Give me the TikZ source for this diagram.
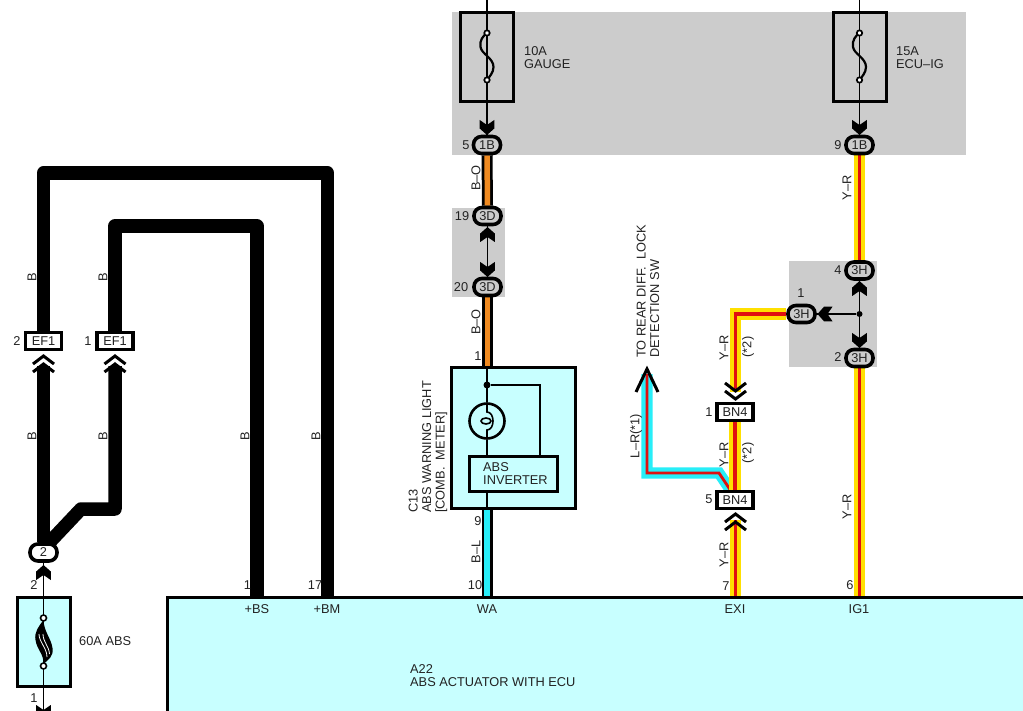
\documentclass[tikz,border=0pt]{standalone}
\usepackage{fontspec}
\setmainfont{Liberation Sans}
\usetikzlibrary{backgrounds}
\definecolor{greybg}{HTML}{CCCCCC}
\definecolor{pale}{HTML}{C8FFFF}
\definecolor{wireorange}{HTML}{F08A20}
\definecolor{wireyellow}{HTML}{FFE000}
\definecolor{wirered}{HTML}{E01010}
\definecolor{wirecyan}{HTML}{28EEF8}
\definecolor{ink}{HTML}{222222}
\tikzset{
  lbl/.style={text=ink,inner sep=0pt,font=\fontsize{12.8}{13.5}\selectfont,align=left},
  vlbl/.style={lbl,rotate=90},
  oval/.style={draw=black,line width=3.6pt,rounded corners=8pt,minimum width=27pt,minimum height=17pt,inner sep=0pt,text=ink,font=\fontsize{12.8}{13.5}\selectfont},
  conbox/.style={draw=black,line width=3.2pt,fill=white,minimum width=36pt,minimum height=17pt,inner sep=0pt,text=ink,font=\fontsize{12.8}{13.5}\selectfont},
  fusebox/.style={draw=black,line width=3pt,minimum width=53pt,minimum height=89pt,inner sep=0pt},
  thin wire/.style={draw=black,line width=1.8pt},
  fat wire/.style={draw=black,line width=13.5pt,line join=round},
  bo wire/.style={draw=black,line width=2.75pt,double=wireorange,double distance=5.5pt},
  bl wire/.style={draw=black,line width=2.75pt,double=wirecyan,double distance=5.5pt},
  yr wire/.style={draw=wireyellow,line width=4.2pt,double=wirered,double distance=3.2pt},
  lr wire/.style={draw=wirecyan,line width=4.2pt,double=wirered,double distance=2.8pt},
  solidhead/.pic={\fill[black] (-7.3,-15)--(0,-10)--(7.3,-15)--(7.3,-6.5)--(0,0)--(-7.3,-6.5)--cycle;},
  openhead/.pic={\draw[black,line width=3pt,miter limit=3] (-10.5,-8)--(0,0)--(10.5,-8) (-10.5,-16)--(0,-8)--(10.5,-16);},
  fusesym/.pic={
    \draw[black,line width=2.2pt] (0,0) .. controls (-4,3) and (-7.5,7) .. (-6.5,14) .. controls (-5.5,21) and (6.5,25) .. (6.5,34) .. controls (6.5,40) and (2,44) .. (0,47);
    \draw[black,line width=1.7pt,fill=white] (0,0) circle (2.7) (0,47) circle (2.7);},
}
\begin{document}
\begin{tikzpicture}[x=1pt,y=-1pt]
\useasboundingbox (0,0) rectangle (1023,711);
% main component
\fill[pale] (167,597) rectangle (1023,711);
\draw[black,line width=3pt] (1023,597) -- (167,597) -- (167,711);
\coordinate (pinBS) at (257,597);
\coordinate (pinBM) at (327.5,597);
\coordinate (pinWA) at (487,597);
\coordinate (pinEXI) at (735.5,597);
\coordinate (pinIG) at (859.5,597);

% fuses
\node[fusebox] (fuseG) at (487,57) {};
\node[fusebox] (fuseI) at (859.5,57) {};
\node[fusebox,fill=pale] (fuseA) at (44,642) {};

% connectors
\node[oval,fill=greybg] (b1) at (487,145) {1B};
\node[oval,fill=greybg] (b2) at (859.5,145) {1B};
\node[oval,fill=greybg] (d1) at (487.5,216) {3D};
\node[oval,fill=greybg] (d2) at (487.5,287) {3D};
\node[oval,fill=greybg] (h4) at (859.5,270.5) {3H};
\node[oval,fill=greybg] (h2) at (859.5,358) {3H};
\node[oval,fill=greybg] (h1) at (801.5,314) {3H};
\node[oval,fill=white] (j2) at (43.5,552.5) {2};
\node[conbox] (efa) at (43.5,341) {EF1};
\node[conbox] (efb) at (115,341) {EF1};
\node[conbox] (bn1) at (735,412) {BN4};
\node[conbox] (bn5) at (735,500) {BN4};

% warning light
\node[draw=black,line width=3pt,fill=pale,minimum width=124pt,minimum height=141pt,inner sep=0pt] (meter) at (513.5,438) {};
\node[draw=black,line width=3pt,fill=pale,minimum width=88pt,minimum height=35pt,inner sep=0pt] (inv) at (513.5,474) {};
\node[draw=black,line width=2.6pt,circle,minimum size=35pt,inner sep=0pt] (bulb) at (487,421) {};
\node[circle,fill=black,minimum size=7pt,inner sep=0pt] (dotm) at (487,385) {};
\node[circle,fill=black,minimum size=6pt,inner sep=0pt] (doth) at (859.5,314) {};

% free ends of the wires
\coordinate (topG) at (487,0);
\coordinate (topI) at (859.5,0);
\coordinate (efaL) at (43.5,366);
\coordinate (efbL) at (115,366);
\coordinate (ctop) at (115,226);
\coordinate (dtop) at (43.5,173);
\coordinate (bend1) at (115,509);
\coordinate (bend2) at (81,509);
\coordinate (bend3) at (47,545);
\coordinate (yrc) at (735.5,314);
\coordinate (yre) at (735.5,392);
\coordinate (yrl) at (735.5,520);
\coordinate (lrt) at (647,374);
\coordinate (lrc) at (647,473);
\coordinate (lrd) at (719,473);
\coordinate (lre) at (731,491);
\coordinate (fbot) at (43.5,711);

\begin{pgfonlayer}{background}
  \fill[greybg] (452,12) rectangle (966,155);
  \fill[greybg] (452,208) rectangle (505,297);
  \fill[greybg] (789,261) rectangle (877,367);
  \draw[fat wire] (efa.north) |- (pinBM |- dtop) -- (pinBM);
  \draw[fat wire] (efb.north) |- (pinBS |- ctop) -- (pinBS);
  \draw[fat wire] (efaL) -- (j2.north);
  \draw[fat wire] (efbL) -- (bend1) -- (bend2) -- (bend3);
  \draw[bo wire] (b1.south) -- (d1.north);
  \draw[bo wire] (d2.south) -- (meter.north -| d2);
  \draw[bl wire] (487,509) -- (pinWA);
  \draw[lr wire] (lrt) -- (lrc) -- (lrd) -- (lre);
  \draw[yr wire] (b2.south) -- (h4.north);
  \draw[yr wire] (h2.south) -- (pinIG);
  \draw[yr wire] (h1.west) -- (yrc) -- (yre);
  \draw[yr wire] (bn1.south) -- (bn5.north);
  \draw[yr wire] (yrl) -- (pinEXI);
\end{pgfonlayer}

% thin wires
\draw[thin wire] (topG) -- (b1.north);
\draw[thin wire] (topI) -- (b2.north);
\draw[thin wire] (d1.south) -- (d2.north);
\draw[thin wire] (h4.south) -- (h2.north);
\draw[thin wire] (doth) -- (h1.east);
\draw[thin wire] (j2.south) -- (fbot);
\draw[thin wire] (meter.north -| dotm) -- (bulb.north);
\draw[thin wire] (bulb.south) -- (inv.north -| bulb);
\draw[thin wire] (inv.south -| bulb) -- (meter.south -| bulb);
\draw[thin wire] (dotm) -| (540,455.5);
\draw[black,line width=1.6pt] (487,403) -- (487,412) .. controls (495,412) and (495,430) .. (487,430) -- (487,438);
\draw[black,line width=1.6pt] (486,421) ellipse (5 and 3);

% fuse symbols
\pic at (487,33) {fusesym};
\pic at (859.5,33) {fusesym};
\fill[black] (43.5,620) .. controls (39,626) and (34,632) .. (35.5,640) .. controls (37,650) and (44,654) .. (43.5,664)
  .. controls (48,660) and (54,656) .. (52.5,648) .. controls (51,638) and (44,632) .. (43.5,620) -- cycle;
\draw[white,line width=.8pt] (39,634) .. controls (39,642) and (47,648) .. (47,657);
\draw[white,line width=.8pt] (43,634) .. controls (43,642) and (49,646) .. (49.5,654);
\draw[black,line width=1.6pt,fill=white] (43.5,618) circle (3) (43.5,666) circle (3);

% arrowheads
\pic at (487,135) {solidhead};
\pic at (859.5,135) {solidhead};
\pic[rotate=180] at (487.5,227) {solidhead};
\pic at (487.5,277) {solidhead};
\pic[rotate=180] at (859.5,281) {solidhead};
\pic at (859.5,348) {solidhead};
\pic[rotate=-90] at (817.5,314) {solidhead};
\pic[rotate=180] at (43.5,565) {solidhead};
\pic at (43.5,720) {solidhead};
\pic[rotate=180] at (43.5,356) {openhead};
\pic[rotate=180] at (115,356) {openhead};
\pic at (735.5,399) {openhead};
\pic[rotate=180] at (735.5,514) {openhead};
\draw[black,line width=3pt] (636,392) -- (647,369) -- (658,392);

% texts
\node[lbl,anchor=west] (t10a) at (524,57.5) {10A\\GAUGE};
\node[lbl,anchor=west] (t15a) at (896,57.5) {15A\\ECU–IG};
\node[lbl] at (466,145) {5};
\node[lbl] at (838,145) {9};
\node[lbl] at (462,216) {19};
\node[lbl] at (461,287) {20};
\node[lbl] at (478,356) {1};
\node[vlbl] at (476,178) {B–O};
\node[vlbl] at (476,322) {B–O};
\node[vlbl] at (476,552) {B–L};
\node[lbl] at (478,521) {9};
\node[lbl] at (475,585) {10};
\node[vlbl,anchor=west] at (428,513) {C13\\ABS WARNING LIGHT\\{[COMB.\ \ METER]}};
\node[lbl,anchor=west] at (483,473.5) {ABS\\INVERTER};
\node[vlbl,anchor=west] at (648,358) {TO REAR DIFF.\ \ LOCK\\DETECTION SW};
\node[vlbl] at (636,436) {L–R(*1)};
\node[vlbl] at (724,348) {Y–R};
\node[vlbl] at (748,347) {(*2)};
\node[vlbl] at (724,455) {Y–R};
\node[vlbl] at (748,453) {(*2)};
\node[vlbl] at (724,555) {Y–R};
\node[lbl] at (726,586) {7};
\node[lbl] at (709,412) {1};
\node[lbl] at (709,499) {5};
\node[vlbl] at (847,188) {Y–R};
\node[vlbl] at (847,507) {Y–R};
\node[lbl] at (838,270) {4};
\node[lbl] at (838,357) {2};
\node[lbl] at (801,293) {1};
\node[lbl] at (850,585) {6};
\node[lbl] at (17,341) {2};
\node[lbl] at (88,341) {1};
\node[vlbl] at (32,277) {B};
\node[vlbl] at (103,277) {B};
\node[vlbl] at (32,436) {B};
\node[vlbl] at (103,436) {B};
\node[vlbl] at (245,436) {B};
\node[vlbl] at (316,436) {B};
\node[lbl] at (34,585) {2};
\node[lbl] at (34,698) {1};
\node[lbl,anchor=west] at (79,641) {60A ABS};
\node[lbl] at (247.5,585) {1};
\node[lbl] at (315,585) {17};
\node[lbl] at (257,609) {+BS};
\node[lbl] at (327,609) {+BM};
\node[lbl] at (487,609) {WA};
\node[lbl] at (735,609) {EXI};
\node[lbl] at (859,609) {IG1};
\node[lbl,anchor=west] at (410,675.5) {A22\\ABS ACTUATOR WITH ECU};
\end{tikzpicture}
\end{document}
